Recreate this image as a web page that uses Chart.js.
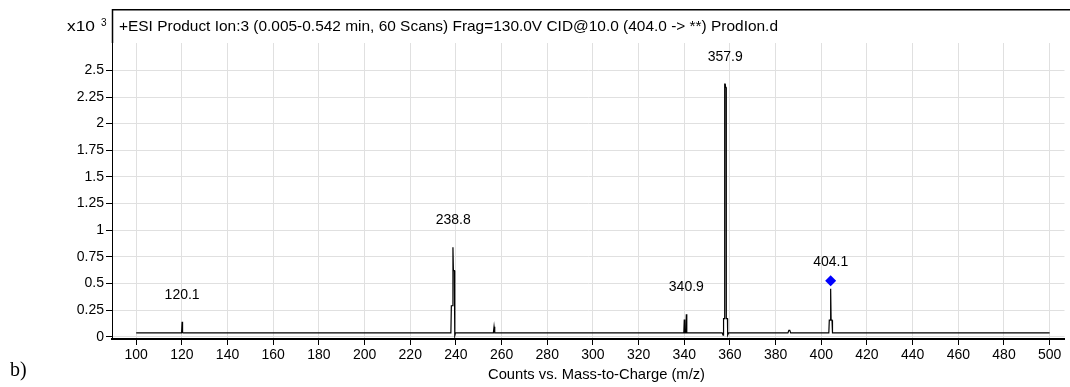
<!DOCTYPE html>
<html>
<head>
    <meta charset="UTF-8">
    <title>Product Ion spectrum</title>
    <script src="https://cdn.jsdelivr.net/npm/chart.js"></script>
    <style>
        body { margin: 0; background: #fff; }
        #wrap { width: 1070px; height: 387px; }
    </style>
</head>
<body>
    <div id="wrap">
        <canvas id="msChart" width="1070" height="387"></canvas>
    </div>
    <script>
        // profile trace (m/z, counts x10^3)
        const mz = [100,
            119.7, 119.9, 120.1, 120.3, 120.6,
            237.8, 238.0, 238.6, 238.7, 238.9, 239.3, 239.5, 239.8,
            256.4, 256.7, 257.0,
            339.8, 340.0, 340.2, 340.7, 340.9, 341.1,
            356.6, 357.0, 357.2, 357.6, 357.7, 357.9, 358.0, 358.3, 358.4, 358.9, 359.0, 359.4,
            385.4, 385.8, 386.2, 386.6,
            403.3, 403.5, 403.9, 404.1, 404.3, 404.7, 404.9,
            500];
        const counts = [0.035,
            0.035, 0.05, 0.14, 0.04, 0.035,
            0.035, 0.29, 0.29, 0.84, 0.62, 0.62, 0.01, 0.035,
            0.035, 0.094, 0.035,
            0.035, 0.16, 0.035, 0.035, 0.21, 0.035,
            0.035, 0.015, 0.17, 0.17, 2.37, 2.37, 2.34, 2.34, 0.17, 0.17, 0.015, 0.035,
            0.035, 0.06, 0.06, 0.035,
            0.035, 0.155, 0.155, 0.45, 0.155, 0.155, 0.035,
            0.035];

        // labelled peaks
        const peakLabels = ['120.1', '238.8', '340.9', '357.9', '404.1'];
        const peakMz = [120.1, 238.8, 340.9, 357.9, 404.1];
        const peakTop = [0.14, 0.84, 0.21, 2.37, 0.45];

        // precursor marker
        const precursorMz = [404.1];
        const precursorCounts = [0.525];

        const xTicks = [100, 120, 140, 160, 180, 200, 220, 240, 260, 280, 300, 320, 340, 360, 380, 400, 420, 440, 460, 480, 500];
        const yTicks = [0, 0.25, 0.5, 0.75, 1, 1.25, 1.5, 1.75, 2, 2.25, 2.5];

        const headerText = '+ESI Product Ion:3 (0.005-0.542 min, 60 Scans) Frag=130.0V CID@10.0 (404.0 -> **) ProdIon.d';
        const xTitle = 'Counts vs. Mass-to-Charge (m/z)';

        const FONT = '"Liberation Sans", Arial, sans-serif';

        var trace = [];
        for (var i = 0; i < mz.length; i++) trace.push({ x: mz[i], y: counts[i] });
        var precursor = [];
        for (var j = 0; j < precursorMz.length; j++) precursor.push({ x: precursorMz[j], y: precursorCounts[j] });

        // draw text stretched to a given width (the original font is wider than Arial)
        function wideText(ctx, txt, x, y, w) {
            var m = ctx.measureText(txt).width;
            ctx.save();
            ctx.translate(x, y);
            ctx.scale(w / m, 1);
            ctx.fillText(txt, 0, 0);
            ctx.restore();
        }

        const decor = {
            id: 'decor',
            afterDraw(chart) {
                const ctx = chart.ctx;
                const xs = chart.scales.x, ys = chart.scales.y;
                const area = chart.chartArea;
                ctx.save();
                // frame above the plot area
                ctx.strokeStyle = '#000';
                ctx.lineWidth = 1.5;
                ctx.beginPath();
                ctx.moveTo(area.left + 0.5, area.top);
                ctx.lineTo(area.left + 0.5, 9.75);
                ctx.lineTo(chart.width, 9.75);
                ctx.stroke();

                ctx.fillStyle = '#000';
                ctx.textBaseline = 'middle';
                ctx.textAlign = 'left';
                ctx.font = '15px ' + FONT;
                wideText(ctx, headerText, 119, 27, 659);
                wideText(ctx, 'x10', 67, 27, 28);
                ctx.font = '10px ' + FONT;
                ctx.fillText('3', 101, 23);

                // peak labels
                ctx.font = '14px ' + FONT;
                ctx.textAlign = 'center';
                for (var k = 0; k < peakLabels.length; k++) {
                    ctx.fillText(peakLabels[k], xs.getPixelForValue(peakMz[k]), ys.getPixelForValue(peakTop[k]) - 27);
                }

                ctx.textAlign = 'left';
                ctx.font = '14.5px ' + FONT;
                wideText(ctx, xTitle, 488, 375, 217);

                ctx.font = '20px "Liberation Serif", "Times New Roman", serif';
                ctx.fillText('b)', 10, 371);
                ctx.restore();
            }
        };

        const chart = new Chart(document.getElementById('msChart'), {
            type: 'line',
            data: {
                datasets: [
                    {
                        data: trace,
                        borderColor: '#000',
                        borderWidth: 1.2,
                        pointRadius: 0,
                        tension: 0,
                        fill: false
                    },
                    {
                        data: precursor,
                        showLine: false,
                        pointStyle: 'rectRot',
                        pointRadius: 5.5,
                        pointBackgroundColor: '#0000ff',
                        pointBorderColor: '#0000ff',
                        pointBorderWidth: 0
                    }
                ]
            },
            options: {
                responsive: false,
                animation: false,
                devicePixelRatio: 1,
                layout: { padding: { top: 43, left: 0, right: 0, bottom: 0 } },
                plugins: {
                    legend: { display: false },
                    tooltip: { enabled: false }
                },
                scales: {
                    x: {
                        type: 'linear',
                        min: 89.4,
                        max: 506.5,
                        afterBuildTicks: function (s) { s.ticks = xTicks.map(v => ({ value: v })); },
                        afterFit: function (s) { s.height = 48; },
                        grid: { color: '#e0e0e0', lineWidth: 1, tickColor: '#000', tickLength: 6 },
                        border: { color: '#000', width: 2 },
                        ticks: {
                            color: '#000',
                            font: { family: FONT, size: 14 },
                            padding: 2,
                            maxRotation: 0,
                            autoSkip: false
                        }
                    },
                    y: {
                        min: -0.022,
                        max: 2.757,
                        afterBuildTicks: function (s) { s.ticks = yTicks.map(v => ({ value: v })); },
                        afterFit: function (s) { s.width = 112; },
                        grid: { color: '#e0e0e0', lineWidth: 1, tickColor: '#000', tickLength: 6 },
                        border: { color: '#000', width: 1 },
                        ticks: {
                            color: '#000',
                            font: { family: FONT, size: 14 },
                            padding: 2,
                            autoSkip: false,
                            callback: function (v) { return String(v); }
                        }
                    }
                }
            },
            plugins: [decor]
        });
    </script>
</body>
</html>
